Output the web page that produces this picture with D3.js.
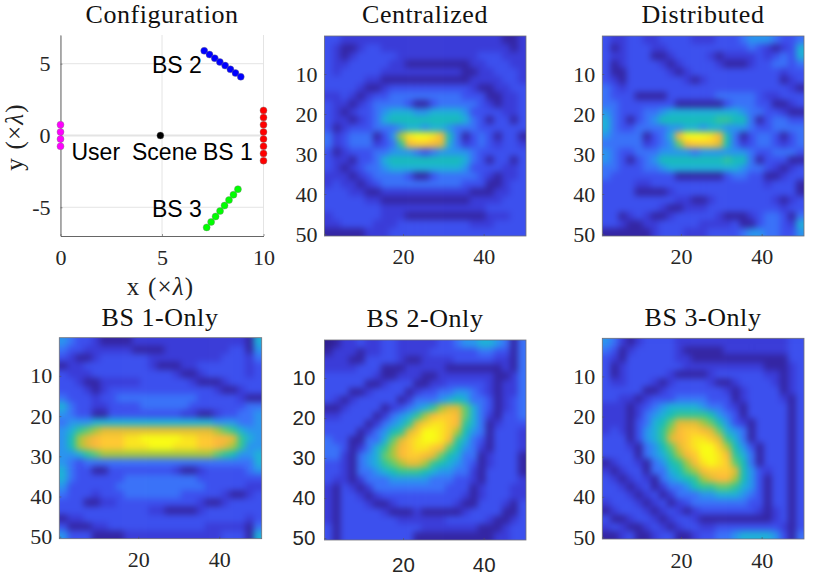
<!DOCTYPE html>
<html>
<head>
<meta charset="utf-8">
<script src="https://cdn.jsdelivr.net/npm/d3@7"></script>
<style>
  body { margin: 0; background: #fff; }
  svg { display: block; }
</style>
</head>
<body>
<svg id="chart" width="813" height="581"></svg>
<script>
// config panel points
var userX = [0, 0, 0, 0];
var userY = [0.75, 0.25, -0.25, -0.75];
var bs1X = [10, 10, 10, 10, 10, 10, 10, 10];
var bs1Y = [1.75, 1.25, 0.75, 0.25, -0.25, -0.75, -1.25, -1.75];
var bs2X = [7.08, 7.34, 7.6, 7.85, 8.11, 8.37, 8.62, 8.88];
var bs2Y = [5.9, 5.64, 5.38, 5.12, 4.87, 4.61, 4.35, 4.09];
var bs3X = [7.2, 7.42, 7.64, 7.86, 8.08, 8.3, 8.52, 8.74];
var bs3Y = [-6.4, -6.02, -5.64, -5.26, -4.88, -4.5, -4.12, -3.74];
var sceneX = [4.92];
var sceneY = [0];

var heatXTicks = [20, 40];
var heatYTicks = [10, 20, 30, 40, 50];
var configXTicks = [0, 5, 10];
var configYTicks = [-5, 0, 5];

// heatmaps, 25 x 25 coarse readings, level 0 (dark) to 15 (yellow)
var centralized = [
  [3,3,2,2,2,2,2,2,2,2,2,2,2,2,2,2,2,2,2,2,2,2,1,1,2],
  [3,2,1,1,2,3,3,2,2,2,2,2,2,2,2,2,2,2,2,2,2,2,2,1,2],
  [3,2,1,2,3,3,3,3,3,2,2,2,2,2,2,2,2,2,2,3,3,3,2,2,2],
  [3,2,2,3,3,3,3,3,2,2,1,1,1,1,1,1,1,1,2,2,3,3,3,2,2],
  [3,2,3,3,3,3,3,2,2,2,2,2,2,2,2,2,2,1,1,2,2,3,3,3,2],
  [3,3,3,3,3,2,2,1,1,1,1,1,1,1,1,1,1,1,2,2,2,2,3,3,2],
  [3,3,3,3,2,1,1,2,3,3,3,3,3,3,3,3,3,3,2,1,1,2,2,3,3],
  [2,2,3,2,1,2,3,3,4,4,4,4,4,4,4,4,4,3,3,3,1,1,2,2,3],
  [3,2,2,1,2,3,4,4,4,4,3,1,1,3,4,4,4,4,4,3,2,1,2,2,3],
  [3,2,1,2,3,3,4,5,6,6,6,5,5,6,6,6,6,5,3,3,3,3,2,2,3],
  [3,2,2,1,2,3,4,6,7,7,7,7,7,7,7,7,7,6,4,3,1,3,3,1,3],
  [3,1,2,3,3,3,4,4,4,5,6,6,5,6,6,5,4,4,4,3,3,3,3,3,3],
  [4,2,3,4,4,4,1,3,5,10,14,15,15,14,12,7,4,1,3,4,3,1,3,3,1],
  [4,2,3,4,4,4,2,3,4,8,12,13,13,12,11,6,4,2,3,4,3,2,3,3,2],
  [3,1,2,3,3,3,4,4,5,5,5,4,3,4,5,5,5,5,4,3,3,3,3,3,3],
  [3,2,2,1,3,3,4,6,7,7,7,7,7,7,7,7,7,6,4,3,1,3,3,1,3],
  [3,2,1,2,3,4,4,5,6,6,6,6,6,6,6,6,6,5,3,3,3,3,2,2,3],
  [2,2,2,1,2,3,4,4,4,4,3,1,1,3,4,4,4,4,4,3,2,1,2,2,3],
  [2,3,2,2,1,2,3,4,4,4,4,4,4,4,4,4,4,3,3,3,1,1,2,3,3],
  [3,3,3,2,2,1,1,2,2,2,2,2,2,2,2,2,2,2,1,1,1,2,2,3,3],
  [3,3,3,3,3,2,2,1,1,1,1,1,1,1,1,1,1,1,2,2,2,2,3,3,3],
  [3,3,3,3,3,3,3,2,2,2,2,2,2,2,2,2,2,2,2,2,3,3,3,3,3],
  [2,3,3,3,3,3,3,2,2,2,1,1,1,1,1,1,1,1,1,1,2,2,2,3,3],
  [2,2,3,3,3,3,2,2,2,3,3,3,3,3,3,3,3,3,2,2,2,3,3,3,3],
  [1,1,1,1,1,2,2,2,3,3,3,3,3,3,3,3,3,3,3,3,3,3,3,3,3]
];

var distributed = [
  [3,2,2,3,3,2,2,3,3,3,3,2,2,2,3,3,3,4,5,5,5,4,3,3,4],
  [3,1,2,3,3,3,2,2,3,3,3,3,3,3,3,3,3,3,4,3,2,1,2,3,6],
  [3,2,2,3,3,3,1,1,2,3,3,3,3,2,1,2,2,2,2,3,2,3,4,3,6],
  [3,1,2,3,3,3,3,2,1,2,3,3,3,3,2,1,1,1,2,3,3,4,4,3,4],
  [3,1,1,3,3,3,3,3,2,1,2,3,3,3,3,3,3,3,3,3,3,3,2,3,3],
  [3,2,1,3,3,3,3,3,3,3,2,1,2,3,3,3,3,3,3,3,3,3,1,2,3],
  [4,3,2,3,3,3,3,3,3,3,3,3,3,3,3,3,3,3,3,3,3,3,3,2,1],
  [4,3,3,3,1,1,1,1,3,3,3,3,3,3,4,4,4,4,4,3,2,2,3,3,3],
  [4,4,3,3,3,3,3,3,3,1,1,1,1,1,1,3,4,4,4,3,3,1,1,2,3],
  [5,4,3,3,3,4,4,5,6,6,6,6,6,6,6,6,6,5,4,4,3,3,2,1,1],
  [6,4,3,1,3,4,5,7,7,7,7,7,7,7,8,8,7,7,4,1,3,4,4,3,3],
  [6,4,3,3,4,4,4,4,5,5,6,6,5,6,6,5,5,5,4,3,3,4,4,4,4],
  [5,4,4,4,4,1,3,4,6,12,15,15,15,14,12,7,4,1,3,4,4,3,1,3,4],
  [4,4,4,4,4,2,3,4,5,9,12,13,13,13,11,7,4,2,3,4,4,3,2,3,4],
  [5,4,3,3,4,4,4,5,5,5,5,4,5,5,5,5,5,5,4,3,3,4,4,4,3],
  [5,4,3,1,3,4,5,7,7,7,7,7,7,7,7,8,7,7,4,1,3,3,3,1,1],
  [4,4,3,3,3,4,4,5,6,6,6,6,6,6,6,6,6,5,4,4,3,2,1,2,3],
  [4,3,3,3,3,3,3,3,3,1,1,1,1,1,1,3,4,4,3,3,1,1,2,3,3],
  [3,3,3,3,2,2,3,3,3,3,3,3,3,3,3,3,3,3,3,3,2,3,3,3,1],
  [3,3,3,3,1,1,1,1,2,3,3,3,3,3,3,3,3,3,3,3,3,3,3,3,1],
  [3,3,3,3,3,3,3,3,3,2,2,1,1,2,3,3,3,3,3,3,3,2,1,2,3],
  [3,3,3,3,3,3,3,2,1,1,2,2,2,3,3,3,3,3,3,3,3,3,2,3,3],
  [3,3,1,2,3,2,1,1,2,3,3,3,3,3,2,1,1,1,2,3,4,4,3,1,4],
  [3,3,2,1,1,2,2,3,3,3,3,3,2,2,2,2,3,1,1,3,4,4,3,2,6],
  [1,1,1,1,1,1,2,3,3,3,2,2,2,3,3,3,3,4,5,5,4,4,3,3,5]
];

var bs1Only = [
  [5,4,3,3,2,1,1,1,1,2,2,2,2,2,2,2,2,2,2,2,2,2,2,1,6],
  [4,3,3,2,2,2,2,2,2,1,1,1,1,2,2,2,2,2,2,2,2,3,3,1,5],
  [3,2,1,1,2,3,3,3,3,3,3,2,2,2,2,2,2,2,2,2,3,3,3,2,4],
  [1,2,2,3,3,3,3,3,3,3,3,2,1,1,1,2,2,3,3,3,3,3,3,2,3],
  [3,2,2,2,3,3,3,3,3,3,3,3,3,3,2,1,1,2,3,3,3,3,3,2,3],
  [3,3,2,1,1,2,2,2,2,2,3,3,3,3,3,3,2,1,1,1,2,3,3,3,3],
  [3,3,3,2,1,2,3,3,3,3,3,3,3,3,3,3,3,3,3,2,1,1,2,3,3],
  [4,3,3,3,2,3,3,4,4,4,4,4,4,4,4,4,4,3,3,3,3,3,2,1,1],
  [6,4,3,3,2,2,3,3,3,3,4,4,4,4,4,4,3,3,3,3,3,3,3,4,4],
  [5,4,3,3,1,1,3,3,3,3,3,3,3,3,3,2,2,1,1,2,3,3,4,4,5],
  [4,5,5,5,6,6,6,6,6,6,6,6,6,6,6,6,6,6,6,5,5,5,4,4,5],
  [5,6,8,9,10,11,11,11,11,11,11,11,11,11,11,11,11,11,11,10,9,8,6,5,5],
  [5,7,10,11,12,13,13,13,14,14,15,15,15,15,15,14,14,13,13,12,12,11,8,6,5],
  [5,7,10,11,12,13,13,13,14,14,14,15,15,15,14,14,14,13,13,12,11,10,8,5,5],
  [5,5,6,8,9,10,10,10,10,10,10,10,10,10,10,10,10,10,10,9,8,7,5,5,6],
  [5,4,3,4,4,4,4,4,4,4,4,4,4,4,4,4,4,4,4,4,4,4,4,4,6],
  [6,4,3,3,1,1,3,3,3,3,3,3,3,3,2,1,1,2,3,3,3,3,3,4,5],
  [6,4,3,3,3,3,3,3,4,4,4,4,4,4,4,4,4,3,3,3,3,3,3,3,3],
  [5,3,3,3,3,3,3,4,4,4,4,4,4,4,4,4,4,4,3,3,3,3,3,2,2],
  [4,3,3,3,2,3,3,3,4,4,4,4,4,4,4,3,3,3,3,3,2,1,1,2,3],
  [3,3,3,1,1,2,2,3,3,3,3,3,3,3,3,3,3,2,1,1,2,3,3,3,3],
  [3,3,3,3,3,3,3,3,3,3,3,2,2,1,1,1,1,2,3,3,3,3,3,3,3],
  [1,2,2,3,3,3,3,3,3,3,3,3,3,3,3,3,3,3,3,3,3,3,3,2,3],
  [3,1,1,1,2,2,3,3,3,3,3,3,3,3,3,3,3,3,2,2,2,2,2,1,4],
  [5,3,3,3,1,1,1,1,2,2,2,2,2,2,2,2,2,2,2,2,3,3,3,1,6]
];

var bs2Only = [
  [0,1,2,2,3,2,2,3,3,2,2,2,2,2,3,3,4,5,5,6,6,5,4,1,4],
  [1,2,2,2,1,2,2,3,3,2,2,2,2,3,3,3,3,3,3,4,4,3,3,1,4],
  [2,2,2,1,1,3,3,3,3,2,1,1,2,2,2,2,3,3,3,3,3,2,2,1,4],
  [2,2,2,2,3,3,3,1,1,1,2,2,2,2,2,1,1,1,1,1,1,1,2,1,4],
  [3,3,3,3,3,3,2,1,1,2,2,2,1,1,2,2,2,2,2,2,2,1,1,2,4],
  [3,3,3,3,3,1,1,2,3,3,3,1,1,2,2,3,3,3,3,3,2,1,2,2,4],
  [3,3,3,1,1,2,3,3,3,3,1,2,3,3,4,4,5,5,4,3,2,1,2,2,4],
  [3,2,1,2,3,3,3,3,3,1,2,4,4,4,5,6,7,6,4,4,3,1,2,3,4],
  [1,1,2,3,3,3,3,1,2,3,4,5,6,8,10,11,11,9,6,4,3,1,2,3,4],
  [2,2,3,3,3,3,1,2,4,5,6,8,10,12,13,13,12,9,6,4,2,1,3,3,4],
  [3,3,3,3,3,1,2,4,5,6,8,11,13,14,14,13,12,8,6,4,1,2,3,3,3],
  [3,3,3,3,1,2,4,5,7,8,11,13,15,15,14,13,10,7,5,4,1,3,3,3,2],
  [4,3,3,1,1,4,4,6,9,11,13,14,15,15,14,12,8,6,4,3,1,3,3,3,2],
  [4,4,3,1,2,4,6,8,10,12,13,14,14,13,12,9,7,5,4,2,1,3,3,3,2],
  [4,4,2,1,4,5,6,9,10,12,13,13,12,11,9,7,6,4,4,1,2,3,3,3,1],
  [3,3,2,1,4,5,6,8,9,10,11,11,10,8,7,6,5,4,3,1,2,3,3,3,1],
  [3,3,2,1,4,4,5,6,7,8,8,8,7,6,5,5,4,4,2,1,3,3,3,3,1],
  [3,2,2,1,2,4,4,4,5,5,5,5,5,4,4,4,3,3,2,1,3,3,3,3,2],
  [2,1,3,2,1,2,4,4,4,4,4,4,4,4,4,3,3,3,1,2,3,3,3,2,2],
  [2,1,3,3,2,1,2,3,3,3,3,3,3,3,3,3,3,2,1,2,3,3,3,2,2],
  [2,1,3,3,3,2,1,1,2,3,3,3,3,3,3,3,2,1,1,3,3,3,2,1,3],
  [2,1,3,3,3,3,3,2,1,1,1,2,1,1,1,1,1,2,3,3,3,3,1,1,3],
  [2,1,3,3,3,3,3,3,3,2,2,2,2,2,2,3,3,3,3,3,2,1,1,2,3],
  [3,1,3,3,3,3,3,3,3,3,3,3,2,2,2,2,2,2,2,1,1,1,2,3,3],
  [3,1,3,3,3,3,3,3,3,3,3,1,1,1,1,1,1,1,1,1,1,2,2,3,3]
];

var bs3Only = [
  [5,4,2,1,2,3,3,3,3,2,2,2,2,2,2,2,2,2,2,2,2,2,2,3,3],
  [4,3,1,2,3,3,3,3,3,2,1,1,1,1,1,2,2,2,2,2,2,2,2,3,3],
  [3,2,1,3,3,3,3,3,3,2,2,1,1,1,1,1,1,1,1,1,1,1,1,3,3],
  [3,1,2,3,3,3,3,3,3,3,2,2,2,2,2,2,2,2,2,2,1,1,1,2,3],
  [3,1,2,3,3,3,3,3,2,1,1,1,1,2,3,3,3,3,3,3,2,2,1,2,3],
  [3,2,2,3,3,3,2,1,2,3,3,3,3,2,1,1,2,3,3,3,3,2,1,2,3],
  [3,3,3,3,3,1,1,2,3,3,3,3,3,3,3,2,1,2,3,3,3,3,1,2,3],
  [3,3,2,2,1,2,3,3,3,4,4,4,4,3,3,3,1,2,3,3,3,3,2,1,3],
  [2,2,2,1,2,3,4,5,6,6,6,6,5,4,4,3,2,1,3,3,3,3,3,1,3],
  [2,2,2,1,2,4,5,6,7,8,8,8,8,7,5,4,3,1,3,3,3,3,3,1,3],
  [2,2,2,1,3,4,6,7,9,11,11,11,10,9,7,5,3,2,1,3,3,3,3,1,3],
  [2,3,2,1,3,5,6,8,10,12,13,13,12,11,9,6,5,4,1,3,3,3,3,1,3],
  [3,3,3,1,3,5,6,8,11,12,13,14,14,13,11,8,6,4,1,3,3,3,3,1,3],
  [3,3,3,2,1,4,5,7,9,11,13,14,15,15,13,10,7,5,3,1,3,3,3,1,3],
  [3,3,3,3,1,4,5,6,8,10,12,13,15,15,14,12,8,6,4,1,3,3,3,1,3],
  [1,2,3,3,2,1,4,5,7,8,10,12,14,15,14,13,9,7,4,1,3,3,3,1,3],
  [2,1,2,3,3,1,4,4,6,7,9,10,12,13,13,13,11,7,5,3,2,3,3,1,3],
  [3,2,1,2,3,2,1,4,5,6,7,8,10,11,12,12,10,7,5,3,1,3,3,1,3],
  [3,3,2,1,2,3,1,2,4,4,5,7,8,8,9,9,8,6,5,3,1,3,3,1,3],
  [3,3,3,2,1,2,3,1,2,4,4,4,5,5,6,6,6,5,4,3,1,3,3,1,3],
  [2,3,3,3,2,1,2,3,1,2,3,4,4,4,4,4,4,4,3,3,1,3,3,1,3],
  [1,2,3,3,3,2,1,2,3,2,1,2,3,3,3,3,3,3,3,2,1,2,3,1,3],
  [3,1,1,2,3,3,2,1,2,3,3,2,1,1,1,1,1,1,1,1,1,2,3,1,3],
  [2,3,2,1,1,2,3,2,1,2,3,3,2,2,3,3,3,3,3,3,3,3,2,1,3],
  [1,1,2,3,1,1,2,3,3,1,1,2,3,3,4,4,5,6,6,6,6,5,3,1,4]
];

var svg = d3.select("#chart");
var serif = "'Liberation Serif', serif";
var sans = "'Liberation Sans', Arial, sans-serif";

// parula, stretched at the low end to follow the picture
var color = d3.scaleLinear()
  .domain(d3.range(16))
  .range(["#2f1f90", "#3426a4", "#3a3cd8", "#3c50ee", "#3a72f8", "#2a94ee", "#1fb0d8", "#17bdb8",
          "#30c598", "#60cb70", "#a5c640", "#e0bb38", "#fbb93a", "#fec932", "#fae41f", "#f9fb15"]);

var defs = svg.append("defs");
defs.append("filter")
    .attr("id", "soft")
    .attr("x", "-10%").attr("y", "-10%")
    .attr("width", "120%").attr("height", "120%")
    .attr("color-interpolation-filters", "sRGB")
  .append("feGaussianBlur")
    .attr("stdDeviation", 3.1);

// draw one heatmap panel
function drawHeat(id, values, title, box, titleX, titleY, font, yPad, xPad) {
  var rows = d3.range(values.length);
  var cols = d3.range(values[0].length);
  var x = d3.scaleBand().domain(cols).range([box.left, box.right]);
  var y = d3.scaleBand().domain(rows).range([box.top, box.bottom]);
  var xAxisScale = d3.scaleLinear().domain([0.5, 50.5]).range([box.left, box.right]);
  var yAxisScale = d3.scaleLinear().domain([0.5, 50.5]).range([box.top, box.bottom]);

  defs.append("clipPath").attr("id", "clip" + id)
    .append("rect")
      .attr("x", box.left).attr("y", box.top)
      .attr("width", box.right - box.left).attr("height", box.bottom - box.top);

  var cells = svg.append("g").attr("clip-path", "url(#clip" + id + ")")
    .append("g").attr("filter", "url(#soft)");

  // edge cells run past the clip so the blur does not fade at the border
  rows.forEach(function(r) {
    cells.selectAll(".r" + r)
      .data(values[r])
      .enter().append("rect")
        .attr("class", "r" + r)
        .attr("x", function(d, c) { return x(c) - (c == 0 ? 14 : 0); })
        .attr("y", y(r) - (r == 0 ? 14 : 0))
        .attr("width", function(d, c) { return x.bandwidth() + 0.6 + (c == 0 || c == cols.length - 1 ? 14 : 0); })
        .attr("height", y.bandwidth() + 0.6 + (r == 0 || r == rows.length - 1 ? 14 : 0))
        .style("fill", function(d) { return color(d); });
  });

  svg.append("rect")
    .attr("x", box.left).attr("y", box.top)
    .attr("width", box.right - box.left).attr("height", box.bottom - box.top)
    .style("fill", "none").style("stroke", "#6f6f78").style("stroke-width", 0.8);

  var xAxis = d3.axisBottom(xAxisScale).tickValues(heatXTicks).tickSizeInner(-2).tickSizeOuter(0).tickPadding(xPad);
  var yAxis = d3.axisLeft(yAxisScale).tickValues(heatYTicks).tickSizeInner(-2).tickSizeOuter(0).tickPadding(yPad);

  styleAxis(svg.append("g").attr("transform", "translate(0," + box.bottom + ")").call(xAxis), font);
  styleAxis(svg.append("g").attr("transform", "translate(" + box.left + ",0)").call(yAxis), font);

  addTitle(title, titleX, titleY);
}

function styleAxis(g, font) {
  g.select(".domain").remove();
  g.selectAll("line").style("stroke", "#555").style("stroke-width", 0.6);
  g.selectAll("text")
    .style("font-family", font == "sans" ? sans : serif)
    .style("font-size", font == "sans" ? "20.5px" : "22px")
    .style("fill", "#262626");
}

function addTitle(title, x, y) {
  svg.append("text")
    .attr("x", x).attr("y", y)
    .attr("text-anchor", "middle")
    .style("font-family", serif)
    .style("font-size", "26px")
    .style("letter-spacing", "0.55px")
    .style("fill", "#111")
    .text(title);
}

function drawConfig() {
  var box = {left: 60.5, right: 263.5, top: 35, bottom: 236};
  var x = d3.scaleLinear().domain([0, 10]).range([box.left, box.right]);
  var y = d3.scaleLinear().domain([-7, 7]).range([box.bottom, box.top]);

  // grid
  svg.append("g").selectAll("line")
    .data(configXTicks)
    .enter().append("line")
      .attr("x1", function(d) { return x(d); }).attr("x2", function(d) { return x(d); })
      .attr("y1", box.top).attr("y2", box.bottom)
      .style("stroke", "#e4e4e4").style("stroke-width", 1);
  svg.append("g").selectAll("line")
    .data(configYTicks)
    .enter().append("line")
      .attr("x1", box.left).attr("x2", box.right)
      .attr("y1", function(d) { return y(d); }).attr("y2", function(d) { return y(d); })
      .style("stroke", "#e4e4e4").style("stroke-width", function(d) { return d == 0 ? 2 : 1; });

  var xAxis = d3.axisBottom(x).tickValues(configXTicks).tickSizeInner(-2).tickSizeOuter(0).tickPadding(13);
  var yAxis = d3.axisLeft(y).tickValues(configYTicks).tickSizeInner(-2).tickSizeOuter(0).tickPadding(10)
    .tickFormat(function(d) { return d; });

  var gx = svg.append("g").attr("transform", "translate(0," + box.bottom + ")").call(xAxis);
  var gy = svg.append("g").attr("transform", "translate(" + box.left + ",0)").call(yAxis);
  [gx, gy].forEach(function(g) {
    g.select(".domain").style("stroke", "#555").style("stroke-width", 0.9);
    g.selectAll("line").style("stroke", "#555").style("stroke-width", 0.6);
    g.selectAll("text").style("font-family", serif).style("font-size", "22px").style("fill", "#262626");
  });

  var groups = [
    {xs: userX, ys: userY, fill: "#ff00ff"},
    {xs: bs1X, ys: bs1Y, fill: "#ff0000"},
    {xs: bs2X, ys: bs2Y, fill: "#0000ff"},
    {xs: bs3X, ys: bs3Y, fill: "#00ff00"},
    {xs: sceneX, ys: sceneY, fill: "#000000"}
  ];
  groups.forEach(function(grp) {
    svg.append("g").selectAll("circle")
      .data(grp.xs)
      .enter().append("circle")
        .attr("cx", function(d) { return x(d); })
        .attr("cy", function(d, i) { return y(grp.ys[i]); })
        .attr("r", 3.5)
        .style("fill", grp.fill)
        .style("stroke", "#7a7a7a").style("stroke-width", 0.4);
  });

  // text labels inside the axes
  var labels = [["User", 71.5, 159.5], ["Scene", 132, 159.5], ["BS 1", 203, 159.5], ["BS 2", 152, 73], ["BS 3", 152, 217]];
  svg.append("g").selectAll("text")
    .data(labels)
    .enter().append("text")
      .attr("x", function(d) { return d[1]; })
      .attr("y", function(d) { return d[2]; })
      .style("font-family", sans)
      .style("font-size", "23px")
      .style("fill", "#000")
      .text(function(d) { return d[0]; });

  addAxisLabel("x", 160.5, 295, 0);
  addAxisLabel("y", 22.5, 137, -90);
  addTitle("Configuration", 162, 23);
}

function addAxisLabel(name, px, py, angle) {
  var t = svg.append("text")
    .attr("transform", "translate(" + px + "," + py + ") rotate(" + angle + ")")
    .attr("text-anchor", "middle")
    .style("font-family", serif)
    .style("font-size", "25px")
    .style("letter-spacing", "1.2px")
    .style("fill", "#222");
  t.append("tspan").text(name + " (\u00d7");
  t.append("tspan").style("font-style", "italic").text("\u03bb");
  t.append("tspan").text(")");
}

drawConfig();
drawHeat("a", centralized, "Centralized", {left: 324.4, right: 526, top: 36, bottom: 236}, 425, 23, "serif", 7, 12);
drawHeat("b", distributed, "Distributed", {left: 602.3, right: 804, top: 36, bottom: 236}, 703, 23, "serif", 7, 12);
drawHeat("c", bs1Only, "BS 1-Only", {left: 59.3, right: 261.7, top: 337.7, bottom: 538.7}, 160, 326, "serif", 7, 13);
drawHeat("d", bs2Only, "BS 2-Only", {left: 324.4, right: 526, top: 340, bottom: 540}, 425, 327, "sans", 9, 17);
drawHeat("e", bs3Only, "BS 3-Only", {left: 602.3, right: 804, top: 338.3, bottom: 539}, 703, 326, "serif", 7, 13.5);
</script>
</body>
</html>
